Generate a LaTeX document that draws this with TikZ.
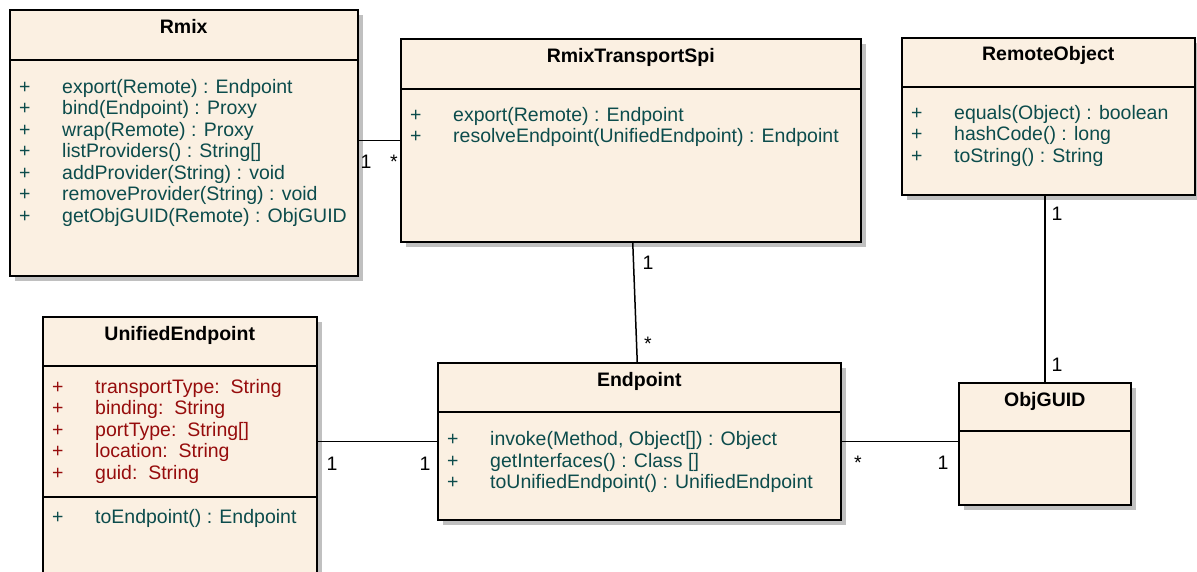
\documentclass[tikz,border=0pt]{standalone}
\usepackage{fontspec}
\setmainfont{Liberation Sans}
\usetikzlibrary{shadows}
\definecolor{boxfill}{RGB}{251,240,226}
\definecolor{optext}{RGB}{12,76,76}
\definecolor{attrtext}{RGB}{150,12,12}
\definecolor{shadowgray}{RGB}{192,192,192}
\newcommand{\umlfont}{\fontsize{19.5}{22}\selectfont}
\newcommand{\mrow}[5]{\node[#1] (#2) at (#3,#4) {\makebox[43pt][l]{+}#5};}
\tikzset{
  classbox/.style={draw=black, line width=1.5pt, fill=boxfill, anchor=north west, inner sep=0pt,
    drop shadow={shadow xshift=5pt, shadow yshift=-5pt, fill=shadowgray, opacity=1}},
  divider/.style={line width=1.5pt},
  classtitle/.style={anchor=base, font=\umlfont\bfseries, inner sep=0pt},
  optxt/.style={anchor=base west, text=optext, font=\umlfont, inner sep=0pt},
  attrtxt/.style={anchor=base west, text=attrtext, font=\umlfont, inner sep=0pt},
  mult/.style={anchor=base, font=\umlfont, inner sep=0pt},
  assoc/.style={line width=1.5pt},
}
\begin{document}
\begin{tikzpicture}[x=1pt,y=-1pt]
\useasboundingbox (0,0) rectangle (1197,571);
\clip (0,0) rectangle (1197,571);
% boxes
\node[classbox, minimum width=348pt, minimum height=266pt] (rmix) at (9,9) {};
\node[classbox, minimum width=460pt, minimum height=203pt] (spi) at (400,38) {};
\node[classbox, minimum width=293pt, minimum height=157pt] (ro) at (901,37) {};
\node[classbox, minimum width=274pt, minimum height=300pt] (ue) at (42,316) {};
\node[classbox, minimum width=403pt, minimum height=157pt] (ep) at (437,362) {};
\node[classbox, minimum width=172pt, minimum height=122pt] (og) at (958,382) {};
% dividers
\draw[divider] ([yshift=-51pt]rmix.north west) -- ([yshift=-51pt]rmix.north east);
\draw[divider] ([yshift=-51pt]spi.north west) -- ([yshift=-51pt]spi.north east);
\draw[divider] ([yshift=-50pt]ro.north west) -- ([yshift=-50pt]ro.north east);
\draw[divider] ([yshift=-50pt]ue.north west) -- ([yshift=-50pt]ue.north east);
\draw[divider] ([yshift=-181pt]ue.north west) -- ([yshift=-181pt]ue.north east);
\draw[divider] ([yshift=-50pt]ep.north west) -- ([yshift=-50pt]ep.north east);
\draw[divider] ([yshift=-49pt]og.north west) -- ([yshift=-49pt]og.north east);
% titles
\node[classtitle] (rmix-t) at ([yshift=-24pt]rmix.north) {Rmix};
\node[classtitle] (spi-t) at ([yshift=-24pt]spi.north) {RmixTransportSpi};
\node[classtitle] (ro-t) at ([yshift=-23pt]ro.north) {RemoteObject};
\node[classtitle] (ue-t) at ([yshift=-24pt]ue.north) {UnifiedEndpoint};
\node[classtitle] (ep-t) at ([yshift=-24pt]ep.north) {Endpoint};
\node[classtitle] (og-t) at ([yshift=-24pt]og.north) {ObjGUID};
% Rmix operations
\mrow{optxt}{rmix-o1}{19}{93}{export(Remote) : Endpoint}
\mrow{optxt}{rmix-o2}{19}{114.5}{bind(Endpoint) : Proxy}
\mrow{optxt}{rmix-o3}{19}{136}{wrap(Remote) : Proxy}
\mrow{optxt}{rmix-o4}{19}{157.5}{listProviders() : String[]}
\mrow{optxt}{rmix-o5}{19}{179}{addProvider(String) : void}
\mrow{optxt}{rmix-o6}{19}{200.5}{removeProvider(String) : void}
\mrow{optxt}{rmix-o7}{19}{222}{getObjGUID(Remote) : ObjGUID}
% Spi operations
\mrow{optxt}{spi-o1}{410}{121}{export(Remote) : Endpoint}
\mrow{optxt}{spi-o2}{410}{142.5}{resolveEndpoint(UnifiedEndpoint) : Endpoint}
% RemoteObject operations
\mrow{optxt}{ro-o1}{911}{119}{equals(Object) : boolean}
\mrow{optxt}{ro-o2}{911}{140.5}{hashCode() : long}
\mrow{optxt}{ro-o3}{911}{162}{toString() : String}
% UnifiedEndpoint attributes and operation
\mrow{attrtxt}{ue-a1}{52}{393}{transportType:\ \ String}
\mrow{attrtxt}{ue-a2}{52}{414.5}{binding:\ \ String}
\mrow{attrtxt}{ue-a3}{52}{436}{portType:\ \ String[]}
\mrow{attrtxt}{ue-a4}{52}{457.5}{location:\ \ String}
\mrow{attrtxt}{ue-a5}{52}{479}{guid:\ \ String}
\mrow{optxt}{ue-o1}{52}{523}{toEndpoint() : Endpoint}
% Endpoint operations
\mrow{optxt}{ep-o1}{447}{445.5}{invoke(Method, Object[]) : Object}
\mrow{optxt}{ep-o2}{447}{467}{getInterfaces() : Class []}
\mrow{optxt}{ep-o3}{447}{488.5}{toUnifiedEndpoint() : UnifiedEndpoint}
% connectors
\draw[assoc] (rmix.east |- spi.west) -- (spi.west);
\draw[assoc] ([xshift=2pt]spi.south) -- ([xshift=-2pt]ep.north);
\draw[assoc] (ue.east |- ep.west) -- (ep.west);
\draw[assoc] (ep.east) -- (ep.east -| og.west);
\draw[assoc] (og.north) -- (og.north |- ro.south);
% multiplicities
\node[mult] (m-rmix) at (366,168) {1};
\node[mult] (m-spi1) at (394,168) {*};
\node[mult] (m-spi2) at (648,269) {1};
\node[mult] (m-ep1) at (648,350) {*};
\node[mult] (m-ue) at (332,470) {1};
\node[mult] (m-ep2) at (425,470) {1};
\node[mult] (m-ep3) at (858,469) {*};
\node[mult] (m-og1) at (943,469) {1};
\node[mult] (m-ro) at (1057,220) {1};
\node[mult] (m-og2) at (1057,371) {1};
\end{tikzpicture}
\end{document}
